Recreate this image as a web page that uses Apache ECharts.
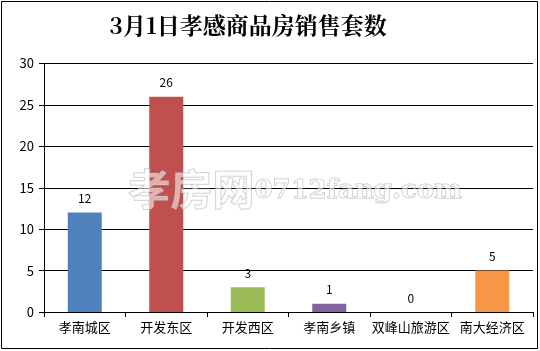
<!DOCTYPE html>
<html><head><meta charset="utf-8">
<script src="https://cdn.jsdelivr.net/npm/echarts@6/dist/echarts.min.js"></script>
<style>html,body{margin:0;padding:0;background:#fff}#c{width:540px;height:351px}</style>
</head><body><div id="c"></div>
<script>
var titleText = '3月1日孝感商品房销售套数';
var categories = ['孝南城区','开发东区','开发西区','孝南乡镇','双峰山旅游区','南大经济区'];
var values = [12, 26, 3, 1, 0, 5];
var colors = ['#4f81bd','#c0504d','#9bbb59','#8064a2','#4bacc6','#f79646'];
var chart = echarts.init(document.getElementById('c'));
var font = '"Noto Sans CJK SC", sans-serif';
chart.setOption({
  animation: false,
  title: {text: titleText, left: 243, top: 9, textAlign: 'center',
    textStyle: {fontFamily: '"Noto Serif CJK SC", "DejaVu Serif", "Noto Sans CJK SC", serif', fontWeight: 'bold', fontSize: 23, color: '#000'}},
  graphic: [
    {type: 'rect', shape: {x: 1.5, y: 1.5, width: 536, height: 347}, style: {fill: null, stroke: '#000', lineWidth: 1}, silent: true, z: 0},
    {type: 'text', left: 128, top: 168, z: 100, style: {text: '孝房网', font: 'bold 42px ' + font, fill: 'rgba(255,255,255,0.55)', stroke: 'rgba(150,150,150,0.6)', lineWidth: 1}},
    {type: 'text', left: 254, top: 178, z: 100, style: {text: '0712fang.com', font: 'bold 26px "DejaVu Serif", serif', fill: 'rgba(255,255,255,0.55)', stroke: 'rgba(150,150,150,0.6)', lineWidth: 1}}
  ],
  grid: {left: 44, right: 7, top: 63.5, bottom: 39, containLabel: false},
  xAxis: {type: 'category', data: categories,
    axisLine: {lineStyle: {color: '#000', width: 1}},
    axisTick: {show: true, alignWithLabel: false, length: 5, lineStyle: {color: '#000'}},
    axisLabel: {color: '#000', fontSize: 13, fontFamily: font, margin: 9, interval: 0}},
  yAxis: {type: 'value', min: 0, max: 30, interval: 5,
    axisLine: {show: true, lineStyle: {color: '#000', width: 1}},
    axisTick: {show: true, length: 5, lineStyle: {color: '#000'}},
    splitLine: {lineStyle: {color: '#000', width: 1}},
    axisLabel: {color: '#000', fontSize: 13, fontFamily: font, margin: 10}},
  series: [{type: 'bar', barWidth: 34,
    data: values.map(function(v, i){ return {value: v, itemStyle: {color: colors[i]}}; }),
    label: {show: true, position: 'top', distance: 8, color: '#000', fontSize: 12, fontFamily: font}}]
});
</script></body></html>
